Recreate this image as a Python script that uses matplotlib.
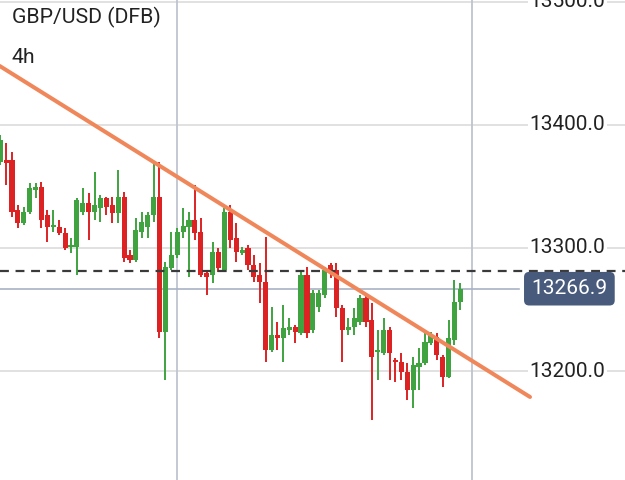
import matplotlib.pyplot as plt
from matplotlib.transforms import blended_transform_factory

# 4h GBP/USD candles (open, close, high, low)
opens = [13369.9, 13371.5, 13371.5, 13330.9, 13320.3, 13329.3, 13347.2, 13349.6, 13326.8, 13317.1,
         13317.1, 13312.2, 13300.8, 13300.8, 13329.3, 13336.6, 13329.3, 13332.5, 13340.7, 13335.0,
         13328.5, 13341.5, 13294.3, 13290.2, 13313.0, 13317.1, 13326.8, 13341.5, 13231.7, 13283.7,
         13294.3, 13313.0, 13317.1, 13322.8, 13313.0, 13279.7, 13278.0, 13296.7, 13282.1, 13329.3,
         13308.1, 13295.9, 13300.0, 13286.2, 13278.0, 13272.4, 13217.1, 13229.3, 13226.8, 13233.3,
         13235.8, 13230.9, 13278.0, 13233.3, 13252.0, 13261.8, 13286.2, 13282.1, 13251.2, 13233.3,
         13235.8, 13239.8, 13259.3, 13241.5, 13215.4, 13214.6, 13233.3, 13208.9, 13207.3, 13199.2,
         13184.5, 13203.3, 13206.5, 13222.8, 13227.6, 13211.4, 13195.1, 13225.2, 13256.1]
closes = [13387.8, 13369.1, 13329.3, 13320.3, 13329.3, 13348.8, 13349.6, 13322.8, 13317.1, 13318.7,
          13312.2, 13300.0, 13302.4, 13339.0, 13336.6, 13329.3, 13335.0, 13340.7, 13333.3, 13328.5,
          13341.5, 13291.9, 13290.2, 13314.6, 13321.1, 13326.8, 13341.5, 13231.7, 13284.6, 13294.3,
          13313.0, 13317.9, 13322.8, 13312.2, 13278.0, 13276.4, 13296.7, 13283.7, 13329.3, 13306.5,
          13296.7, 13298.4, 13286.2, 13276.4, 13272.4, 13217.1, 13229.3, 13226.8, 13235.0, 13235.8,
          13231.7, 13278.0, 13230.9, 13263.4, 13263.4, 13282.1, 13280.5, 13251.2, 13233.3, 13235.8,
          13243.1, 13259.3, 13239.8, 13211.4, 13217.1, 13233.3, 13214.6, 13207.3, 13199.2, 13184.5,
          13204.9, 13206.5, 13223.6, 13229.3, 13213.0, 13195.1, 13226.8, 13256.1, 13266.9]
highs = [13391.9, 13385.4, 13378.0, 13335.0, 13333.3, 13352.8, 13352.8, 13353.7, 13330.9, 13330.9,
         13322.8, 13316.3, 13308.1, 13340.7, 13348.8, 13344.7, 13361.8, 13343.1, 13341.5, 13341.5,
         13363.4, 13345.5, 13298.4, 13324.4, 13329.3, 13329.3, 13369.9, 13369.9, 13288.6, 13313.0,
         13316.3, 13332.5, 13329.3, 13351.2, 13324.4, 13282.1, 13304.9, 13300.0, 13332.5, 13335.0,
         13320.3, 13300.8, 13302.4, 13294.3, 13287.8, 13308.9, 13252.0, 13239.8, 13253.7, 13243.1,
         13237.4, 13282.1, 13284.6, 13265.9, 13265.9, 13284.6, 13287.8, 13287.8, 13253.7, 13243.1,
         13251.2, 13261.8, 13261.8, 13255.3, 13233.3, 13243.1, 13235.8, 13210.6, 13214.6, 13206.5,
         13211.4, 13218.7, 13230.9, 13231.7, 13230.9, 13213.0, 13241.5, 13274.0, 13271.5]
lows = [13367.5, 13351.2, 13325.2, 13316.3, 13318.7, 13327.6, 13340.7, 13316.3, 13304.9, 13313.0,
        13310.6, 13298.4, 13295.9, 13278.0, 13326.8, 13306.5, 13322.8, 13321.1, 13326.8, 13320.3,
        13320.3, 13288.6, 13287.8, 13288.6, 13308.1, 13308.1, 13321.1, 13226.8, 13192.7, 13282.1,
        13291.9, 13308.1, 13276.4, 13306.5, 13276.4, 13261.8, 13271.5, 13280.5, 13280.5, 13300.0,
        13288.6, 13294.3, 13282.1, 13272.4, 13255.3, 13207.3, 13215.4, 13217.1, 13207.3, 13229.3,
        13222.8, 13229.3, 13226.8, 13230.9, 13248.0, 13259.3, 13275.6, 13243.9, 13207.3, 13229.3,
        13229.3, 13237.4, 13235.8, 13160.2, 13192.7, 13213.0, 13192.7, 13191.1, 13192.7, 13176.4,
        13169.9, 13184.5, 13204.9, 13221.1, 13208.9, 13187.0, 13194.3, 13221.1, 13249.6]

price_levels = [13200, 13300, 13400, 13500]
last_price = 13266.9
prev_close = 13281.3
trend_x = [-0.1, 89.8]
trend_y = [13448.0, 13178.9]
title = 'GBP/USD (DFB)'
period = '4h'

up_color = '#3fa33f'
down_color = '#dc2222'

plt.rcParams['font.family'] = ['Roboto', 'DejaVu Sans']

fig = plt.figure(figsize=(6.25, 4.8), dpi=100)
ax = fig.add_axes([0, 0, 1, 1])
ax.set_xlim(-0.034, 105.9)
ax.set_ylim(13111.4, 13501.6)
ax.axis('off')

# grid
for lv in price_levels:
    ax.axhline(lv, color='#dcdcdc', lw=1.2, zorder=0)
for vx in [30, 80]:
    ax.axvline(vx, color='#bfc4d0', lw=1.3, zorder=0)

# candles
xs = list(range(len(opens)))
colors = [up_color if c >= o else down_color for o, c in zip(opens, closes)]
ax.vlines(xs, lows, highs, colors=colors, lw=1.4, zorder=2)
bottoms = [min(o, c) for o, c in zip(opens, closes)]
heights = [max(abs(c - o), 1.0) for o, c in zip(opens, closes)]
ax.bar(xs, heights, bottom=bottoms, width=0.88, color=colors, linewidth=0, zorder=3)

# price lines
ax.axhline(prev_close, color='#3a3a3a', lw=1.6, ls=(0, (4, 3)), zorder=4)
ax.plot([-1, 88], [last_price, last_price], color='#a9b3c6', lw=1.2, zorder=1)

# trend line
ax.plot(trend_x, trend_y, color='#f0875a', lw=2.9, solid_capstyle='round', zorder=5)

# price axis labels
tr = blended_transform_factory(ax.transAxes, ax.transData)
for lv in price_levels:
    ax.text(0.908, lv, f'{lv:.1f}', transform=tr, ha='center', va='center',
            fontsize=15, color='#222222', zorder=6,
            bbox=dict(facecolor='white', edgecolor='none', pad=1.5))
ax.text(0.911, last_price, f'{last_price:.1f}', transform=tr, ha='center', va='center',
        fontsize=15, color='white', zorder=7,
        bbox=dict(boxstyle='round,pad=0.35,rounding_size=0.25', facecolor='#485b7c', edgecolor='none'))

ax.text(0.019, 0.964, title, transform=ax.transAxes, ha='left', va='center',
        fontsize=15.3, color='#222222')
ax.text(0.019, 0.881, period, transform=ax.transAxes, ha='left', va='center',
        fontsize=15.3, color='#222222')

plt.savefig('out.png', dpi=100)
